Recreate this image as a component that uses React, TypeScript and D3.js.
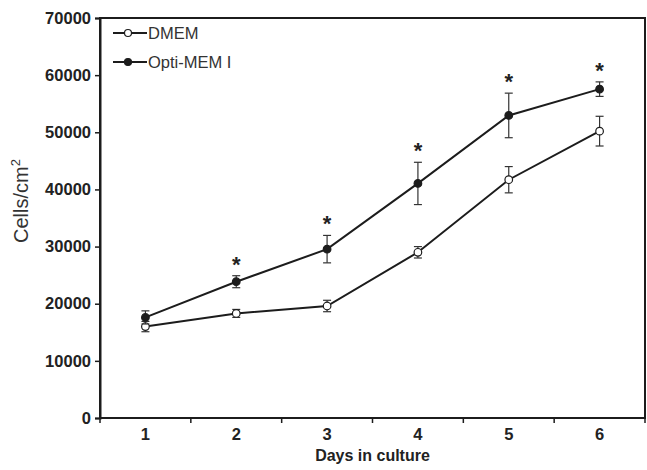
import React, { useEffect, useRef } from 'react';
import * as d3 from 'd3';

// Data
const days = ['1', '2', '3', '4', '5', '6'];
const dmemMean = [16000, 18300, 19600, 29000, 41700, 50200];
const dmemErr = [900, 700, 1000, 1000, 2300, 2600];
const optiMean = [17600, 23850, 29550, 41050, 52950, 57550];
const optiErr = [1150, 1050, 2400, 3700, 3900, 1270];
const significant = [false, true, true, true, true, true];
const yTicks = [0, 10000, 20000, 30000, 40000, 50000, 60000, 70000];

function App() {
  const ref = useRef<SVGSVGElement>(null);

  useEffect(() => {
    const width = 647;
    const height = 470;
    const margin = { top: 18, right: 2, bottom: 52, left: 100 };
    const ink = '#1c1c1c';
    const font = 'Liberation Sans, Arial, sans-serif';

    const svg = d3.select(ref.current);
    svg.selectAll('*').remove();

    const x = d3.scaleBand().domain(days).range([margin.left, width - margin.right]);
    const y = d3.scaleLinear().domain([0, 70000]).range([height - margin.bottom, margin.top]);
    const cx = (d: string) => (x(d) as number) + x.bandwidth() / 2;

    // frame
    svg.append('rect')
      .attr('x', margin.left)
      .attr('y', margin.top)
      .attr('width', width - margin.right - margin.left)
      .attr('height', height - margin.bottom - margin.top)
      .attr('fill', 'none')
      .attr('stroke', ink)
      .attr('stroke-width', 2);

    // y axis
    const yAxis = svg.append('g')
      .attr('transform', `translate(${margin.left},0)`)
      .call(d3.axisLeft(y).tickValues(yTicks).tickSize(5).tickPadding(4).tickFormat(d3.format('d')));
    yAxis.select('.domain').attr('stroke', ink).attr('stroke-width', 2);
    yAxis.selectAll('line').attr('stroke', ink).attr('stroke-width', 1.5);
    yAxis.selectAll('text')
      .attr('fill', '#222')
      .style('font-family', font)
      .style('font-size', '16.5px')
      .style('font-weight', 'bold');

    // x axis: ticks at band edges, labels at centres
    const xg = svg.append('g').attr('transform', `translate(0,${y(0)})`);
    const edges = days.map(d => x(d) as number).concat([width - margin.right]);
    xg.selectAll('line')
      .data(edges)
      .enter()
      .append('line')
      .attr('x1', d => d)
      .attr('x2', d => d)
      .attr('y1', 0)
      .attr('y2', 5)
      .attr('stroke', ink)
      .attr('stroke-width', 1.5);
    xg.selectAll('text')
      .data(days)
      .enter()
      .append('text')
      .attr('x', d => cx(d))
      .attr('y', 22)
      .attr('text-anchor', 'middle')
      .attr('fill', '#222')
      .style('font-family', font)
      .style('font-size', '16.5px')
      .style('font-weight', 'bold')
      .text(d => d);

    // axis titles
    svg.append('text')
      .attr('x', (margin.left + width - margin.right) / 2)
      .attr('y', 461)
      .attr('text-anchor', 'middle')
      .attr('fill', '#222')
      .style('font-family', font)
      .style('font-size', '16px')
      .style('font-weight', 'bold')
      .text('Days in culture');

    const yl = svg.append('text')
      .attr('transform', `translate(28,201) rotate(-90)`)
      .attr('text-anchor', 'middle')
      .attr('fill', '#333')
      .style('font-family', font)
      .style('font-size', '20px');
    yl.append('tspan').text('Cells/cm');
    yl.append('tspan').attr('dy', -8).style('font-size', '13px').text('2');

    const series = [
      { mean: dmemMean, err: dmemErr, fill: '#fff' },
      { mean: optiMean, err: optiErr, fill: ink },
    ];

    const line = d3.line<number>()
      .x((_, i) => cx(days[i]))
      .y(d => y(d));

    series.forEach(s => {
      // error bars
      const eb = svg.append('g');
      days.forEach((d, i) => {
        const top = y(s.mean[i] + s.err[i]);
        const bot = y(s.mean[i] - s.err[i]);
        eb.append('line').attr('x1', cx(d)).attr('x2', cx(d)).attr('y1', top).attr('y2', bot)
          .attr('stroke', '#333').attr('stroke-width', 1.2);
        [top, bot].forEach(v => {
          eb.append('line').attr('x1', cx(d) - 4).attr('x2', cx(d) + 4).attr('y1', v).attr('y2', v)
            .attr('stroke', '#333').attr('stroke-width', 1.2);
        });
      });

      svg.append('path')
        .datum(s.mean)
        .attr('d', line)
        .attr('fill', 'none')
        .attr('stroke', ink)
        .attr('stroke-width', 2);

      svg.selectAll(null)
        .data(s.mean)
        .enter()
        .append('circle')
        .attr('cx', (_, i) => cx(days[i]))
        .attr('cy', d => y(d))
        .attr('r', 3.8)
        .attr('fill', s.fill)
        .attr('stroke', ink)
        .attr('stroke-width', 1.2);
    });

    // significance asterisks
    svg.selectAll(null)
      .data(days.filter((_, i) => significant[i]))
      .enter()
      .append('text')
      .attr('x', d => cx(d))
      .attr('y', d => {
        const i = days.indexOf(d);
        return y(optiMean[i] + optiErr[i]) - 4;
      })
      .attr('text-anchor', 'middle')
      .attr('fill', '#222')
      .style('font-family', font)
      .style('font-size', '22px')
      .style('font-weight', 'bold')
      .text('*');

    // legend
    const legend = [
      { label: 'DMEM', fill: '#fff' },
      { label: 'Opti-MEM I', fill: ink },
    ];
    const lg = svg.selectAll('.legend')
      .data(legend)
      .enter()
      .append('g')
      .attr('class', 'legend')
      .attr('transform', (_, i) => `translate(113,${33 + i * 29})`);
    lg.append('line').attr('x1', 0).attr('x2', 34).attr('y1', 0).attr('y2', 0)
      .attr('stroke', ink).attr('stroke-width', 2);
    lg.append('circle').attr('cx', 15).attr('cy', 0).attr('r', 3.5)
      .attr('fill', d => d.fill).attr('stroke', ink).attr('stroke-width', 1.2);
    lg.append('text')
      .attr('x', 35)
      .attr('y', 6)
      .attr('fill', '#333')
      .style('font-family', font)
      .style('font-size', '16.5px')
      .text(d => d.label);
  }, []);

  return (
    <svg ref={ref} width={647} height={470} style={{ position: 'absolute', left: 0, top: 0, background: '#fff' }} />
  );
}

export default App;
